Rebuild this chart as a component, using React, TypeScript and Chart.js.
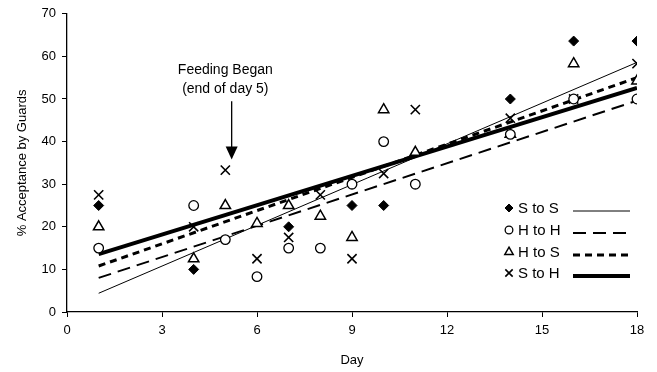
import React, { useEffect, useRef } from "react";
import { Chart, registerables } from "chart.js";

Chart.register(...registerables);

const days = [1, 4, 5, 6, 7, 8, 9, 10, 11, 14, 16, 18];
const sToS = [25, 10, null, null, 20, null, 25, 25, null, 50, 63.6, 63.6];
const hToH = [15, 25, 17, 8.3, 15, 15, 30, 40, 30, 41.7, 50, 50];
const hToS = [20, 12.5, 25, 20.8, 25, 22.5, 17.5, 47.5, 37.5, 41.7, 58.3, 54.2];
const sToH = [27.5, 20, 33.3, 12.5, 17.5, 27.5, 12.5, 32.5, 47.5, 45.5, 50, 58.3];

const trendDays = [1, 18];
const sToSTrend = [4.4, 58.6];
const hToHTrend = [8.0, 49.6];
const hToSTrend = [10.8, 55.0];
const sToHTrend = [13.6, 52.6];

const seriesNames = ["S to S", "H to H", "H to S", "S to H"];
const xTicks = [0, 3, 6, 9, 12, 15, 18];
const yTicks = [0, 10, 20, 30, 40, 50, 60, 70];

const annotationLines = ["Feeding Began", "(end of day 5)"];
const annotationTextDay = 5.0;
const arrowDay = 5.2;
const arrowTop = 49.5;
const arrowTip = 35.8;

const FONT = "'Liberation Sans', Arial, sans-serif";

const pts = (vals: (number | null)[]) =>
  days.map((d, i) => ({ x: d, y: vals[i] })).filter((p) => p.y !== null);
const trend = (vals: number[]) => trendDays.map((d, i) => ({ x: d, y: vals[i] }));

const markerStyles = [
  { pointStyle: "rectRot", radius: 5, bg: "#000", bw: 1 },
  { pointStyle: "circle", radius: 4.8, bg: "#fff", bw: 1.3 },
  { pointStyle: "triangle", radius: 6, bg: "#fff", bw: 1.5 },
  { pointStyle: "crossRot", radius: 6.5, bg: "#fff", bw: 1.6 },
];
const lineStyles = [
  { width: 1, dash: [] as number[] },
  { width: 2, dash: [13, 7] },
  { width: 3, dash: [7, 5] },
  { width: 4, dash: [] as number[] },
];

function drawMarker(ctx: CanvasRenderingContext2D, style: string, r: number, x: number, y: number) {
  ctx.beginPath();
  if (style === "rectRot") {
    ctx.moveTo(x, y - r);
    ctx.lineTo(x + r, y);
    ctx.lineTo(x, y + r);
    ctx.lineTo(x - r, y);
    ctx.closePath();
    ctx.fill();
    ctx.stroke();
  } else if (style === "circle") {
    ctx.arc(x, y, r, 0, Math.PI * 2);
    ctx.fill();
    ctx.stroke();
  } else if (style === "triangle") {
    ctx.moveTo(x, y - r);
    ctx.lineTo(x + r * 0.87, y + r * 0.5);
    ctx.lineTo(x - r * 0.87, y + r * 0.5);
    ctx.closePath();
    ctx.fill();
    ctx.stroke();
  } else {
    const d = r * 0.707;
    ctx.moveTo(x - d, y - d);
    ctx.lineTo(x + d, y + d);
    ctx.moveTo(x + d, y - d);
    ctx.lineTo(x - d, y + d);
    ctx.stroke();
  }
}

const overlayPlugin = {
  id: "overlay",
  afterDraw(chart: any) {
    const ctx = chart.ctx;
    const xs = chart.scales.x;
    const ys = chart.scales.y;
    ctx.save();
    // annotation
    ctx.fillStyle = "#000";
    ctx.font = `14px ${FONT}`;
    ctx.textAlign = "center";
    ctx.textBaseline = "middle";
    const tx = xs.getPixelForValue(annotationTextDay);
    ctx.fillText(annotationLines[0], tx, 70);
    ctx.fillText(annotationLines[1], tx, 89);
    const ax = xs.getPixelForValue(arrowDay);
    const ay1 = ys.getPixelForValue(arrowTop);
    const ay2 = ys.getPixelForValue(arrowTip);
    ctx.strokeStyle = "#000";
    ctx.lineWidth = 1.3;
    ctx.beginPath();
    ctx.moveTo(ax, ay1);
    ctx.lineTo(ax, ay2 - 10);
    ctx.stroke();
    ctx.beginPath();
    ctx.moveTo(ax, ay2);
    ctx.lineTo(ax - 6, ay2 - 13);
    ctx.lineTo(ax + 6, ay2 - 13);
    ctx.closePath();
    ctx.fill();

    // legend
    const rowY = [208, 230, 252, 273];
    ctx.font = `15px ${FONT}`;
    ctx.textAlign = "left";
    for (let i = 0; i < 4; i++) {
      const y = rowY[i];
      const m = markerStyles[i];
      ctx.save();
      ctx.lineWidth = m.bw;
      ctx.strokeStyle = "#000";
      ctx.fillStyle = m.bg;
      drawMarker(ctx, m.pointStyle, m.radius * 0.8, 509, y);
      ctx.restore();
      ctx.fillStyle = "#000";
      ctx.fillText(seriesNames[i], 518, y + 1);
      const l = lineStyles[i];
      ctx.lineWidth = l.width;
      ctx.setLineDash(l.dash);
      ctx.beginPath();
      ctx.moveTo(573, y + 3);
      ctx.lineTo(630, y + 3);
      ctx.stroke();
      ctx.setLineDash([]);
    }
    ctx.restore();
  },
};

export default function App() {
  const ref = useRef<HTMLCanvasElement>(null);
  useEffect(() => {
    document.body.style.margin = "0";
    const series = [sToS, hToH, hToS, sToH];
    const trends = [sToSTrend, hToHTrend, hToSTrend, sToHTrend];
    const scatterSets = series.map((s, i) => ({
      type: "scatter" as const,
      label: seriesNames[i],
      data: pts(s),
      pointStyle: markerStyles[i].pointStyle,
      pointRadius: markerStyles[i].radius,
      pointBackgroundColor: markerStyles[i].bg,
      pointBorderColor: "#000",
      pointBorderWidth: markerStyles[i].bw,
      showLine: false,
    }));
    const lineSets = trends.map((t, i) => ({
      type: "line" as const,
      label: seriesNames[i] + " trend",
      data: trend(t),
      borderColor: "#000",
      borderWidth: lineStyles[i].width,
      borderDash: lineStyles[i].dash,
      pointRadius: 0,
      fill: false,
    }));
    const chart = new Chart(ref.current!, {
      type: "scatter",
      data: { datasets: [...scatterSets, ...lineSets] as any },
      options: {
        responsive: false,
        animation: false,
        devicePixelRatio: 1,
        layout: { padding: { top: 12, right: 20, left: 0, bottom: 0 } },
        plugins: { legend: { display: false }, tooltip: { enabled: false } },
        scales: {
          x: {
            type: "linear",
            min: 0,
            max: 18,
            afterBuildTicks: (s: any) => {
              s.ticks = xTicks.map((v) => ({ value: v }));
            },
            afterFit: (s: any) => {
              s.height = 60;
            },
            ticks: { color: "#000", font: { family: FONT, size: 13 }, padding: 6, maxRotation: 0 },
            grid: { drawOnChartArea: false, drawTicks: true, tickLength: 5, color: "#000" },
            border: { color: "#000", width: 1.3 },
            title: { display: true, text: "Day", color: "#000", font: { family: FONT, size: 13 }, padding: { top: 4 } },
          },
          y: {
            type: "linear",
            min: 0,
            max: 70,
            afterBuildTicks: (s: any) => {
              s.ticks = yTicks.map((v) => ({ value: v }));
            },
            afterFit: (s: any) => {
              s.width = 67;
            },
            ticks: { color: "#000", font: { family: FONT, size: 13 }, padding: 6 },
            grid: { drawOnChartArea: false, drawTicks: true, tickLength: 5, color: "#000" },
            border: { color: "#000", width: 1.3 },
            title: { display: true, text: "% Acceptance by Guards", color: "#000", font: { family: FONT, size: 13 }, padding: { top: 15, bottom: 0 } },
          },
        },
      },
      plugins: [overlayPlugin],
    });
    return () => chart.destroy();
  }, []);
  return <canvas ref={ref} width={657} height={372} style={{ display: "block", width: 657, height: 372 }} />;
}
